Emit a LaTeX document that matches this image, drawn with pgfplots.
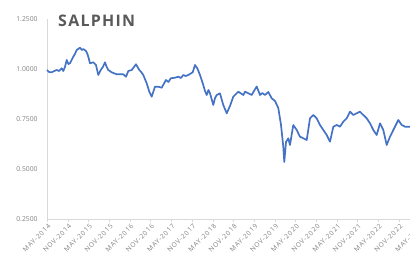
\documentclass[border=0pt]{standalone}
\usepackage{pgfplots}
\pgfplotsset{compat=1.18}
\usepackage{fontspec}
\setmainfont{Open Sans}
\definecolor{lineblue}{RGB}{68,114,196}
\definecolor{axgray}{RGB}{217,217,217}
\definecolor{labgray}{RGB}{128,128,128}
\definecolor{titlegray}{RGB}{89,89,89}
\begin{document}
\begin{tikzpicture}
\begin{axis}[
  name=ax,
  at={(0,0)}, anchor=south west,
  scale only axis,
  width=379.5bp, height=200bp,
  xmin=0, xmax=110,
  ymin=0.25, ymax=1.25,
  axis x line*=bottom, axis y line*=left,
  axis line style={draw=axgray, line width=0.6pt, -},
  xtick={0,6,...,108},
  xticklabels={MAY-2014,NOV-2014,MAY-2015,NOV-2015,MAY-2016,NOV-2016,MAY-2017,NOV-2017,MAY-2018,NOV-2018,MAY-2019,NOV-2019,MAY-2020,NOV-2020,MAY-2021,NOV-2021,MAY-2022,NOV-2022,MAY-2023},
  x tick label style={rotate=45, anchor=north east, font=\fontsize{6.6}{7}\selectfont\addfontfeatures{LetterSpace=12}, text=labgray, inner sep=0.5pt, yshift=-1pt},
  ytick={0.25,0.5,0.75,1,1.25},
  yticklabel style={/pgf/number format/.cd, fixed, fixed zerofill, precision=4, /tikz/.cd, font=\fontsize{6.8}{7}\selectfont, text=labgray, xshift=-3pt},
  /pgf/number format/assume math mode=true,
  tick align=outside,
  xtick style={draw=axgray},
  ytick style={draw=none},
  major tick length=3pt,
  clip=false,
]
\addplot[lineblue, line width=1.7pt, line join=round] coordinates {
(0,0.995) (0.6,0.985) (1.36,0.9835) (2.1,0.99) (2.81,0.995) (3.5,0.99) (4.26,1.0035) (4.72,0.99) (5.2,1.01) (5.71,1.045) (6.2,1.025) (6.67,1.0285) (7.62,1.0615)
(8.1,1.075) (8.61,1.095) (9.57,1.1065) (10.1,1.095) (10.52,1.10) (11.30,1.09) (11.6,1.08) (11.97,1.0615) (12.46,1.0285) (13.42,1.0335) (14.20,1.02)
(14.87,0.97) (15.57,0.995) (16.2,1.01) (16.81,1.0335) (17.3,1.01) (17.77,0.995) (18.75,0.9835) (20.20,0.9735) (22.12,0.9735) (22.90,0.9615)
(23.57,0.99) (24.55,0.995) (25.80,1.0235) (26.75,0.995) (27.3,0.985) (27.91,0.97) (28.90,0.9285) (29.65,0.8865) (30.35,0.8615)
(31.30,0.9115) (32.26,0.9115) (33.25,0.9065) (34.49,0.945) (35.2,0.935) (35.86,0.9535) (37.10,0.9565) (38.06,0.9615) (38.8,0.955) (39.51,0.97)
(40.2,0.965) (40.96,0.97) (42.23,0.9835) (42.90,1.02) (43.57,1.0035) (44.35,0.97) (45.30,0.92) (45.8,0.89) (46.29,0.87) (46.8,0.895) (47.25,0.8785)
(48.20,0.82) (48.7,0.855) (49.19,0.87) (50.14,0.8785) (50.6,0.85) (51.10,0.82) (52.09,0.7785) (53.04,0.815) (54.00,0.8615) (55.45,0.8865)
(56.90,0.87) (57.39,0.8865) (58.35,0.8785) (59.33,0.87) (60.0,0.89) (60.78,0.9125) (61.74,0.87) (62.4,0.88) (63.19,0.87) (64.14,0.885)
(65.13,0.8535) (66.09,0.84) (67.04,0.805) (67.83,0.72) (68.49,0.6115) (68.78,0.535) (69.28,0.635) (69.94,0.6535)
(70.43,0.62) (71.39,0.72) (72.38,0.695) (73.33,0.6615) (74.29,0.6535) (75.28,0.645) (76.23,0.7535) (77.19,0.77)
(78.17,0.7535) (79.13,0.72) (80.09,0.695) (81.07,0.67) (82.03,0.6365) (82.99,0.7115) (83.97,0.72) (84.93,0.7115)
(85.88,0.7365) (86.87,0.7535) (87.83,0.7865) (88.78,0.77) (89.77,0.7785) (90.72,0.7865) (91.68,0.77) (92.67,0.7535)
(93.62,0.7285) (94.58,0.695) (95.57,0.67) (96.52,0.7285) (97.48,0.695) (98.46,0.62) (99.42,0.6615) (100.38,0.695)
(101.83,0.745) (102.81,0.72) (103.77,0.7115) (105.22,0.7115) (108,0.71)
};
\node[anchor=base west, inner sep=0pt, text=titlegray, font=\fontsize{16}{17}\bfseries\addfontfeatures{LetterSpace=8}] at (rel axis cs:0.029,0.962) {SALPHIN};
\end{axis}
\pgfresetboundingbox
\useasboundingbox ([shift={(-47bp,-35bp)}]ax.south west) rectangle ([shift={(363bp,219bp)}]ax.south west);
\end{tikzpicture}
\end{document}
